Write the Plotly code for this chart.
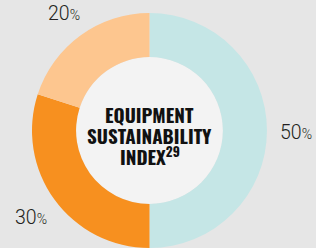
import math
import plotly.graph_objects as go

categories = ["Segment A", "Segment B", "Segment C"]
values = [50, 30, 20]
colors = ["#c5e6e6", "#f7901f", "#fdc68f"]
center_lines = ["EQUIPMENT", "SUSTAINABILITY", "INDEX<sup>29</sup>"]

W, H = 316, 248
cx, cy, R = 149.5, 130.5, 117.5
hole = 0.625

fig = go.Figure(go.Pie(
    labels=categories, values=values, sort=False, direction="clockwise", rotation=0,
    marker=dict(colors=colors, line=dict(width=0)),
    hole=hole, textinfo="none", hoverinfo="label+percent", showlegend=False,
    domain=dict(x=[(cx - R) / W, (cx + R) / W], y=[1 - (cy + R) / H, 1 - (cy - R) / H]),
))

# inner disc
ri = R * hole
fig.add_shape(type="circle", xref="paper", yref="paper", layer="below",
              x0=(cx - ri) / W, x1=(cx + ri) / W, y0=1 - (cy + ri) / H, y1=1 - (cy - ri) / H,
              fillcolor="#f3f3f3", line=dict(width=0))

# percentage labels at each slice's mid-angle
total = sum(values)
acc = 0
for v in values:
    mid = (acc + v / 2) / total * 2 * math.pi
    acc += v
    rl = R * 1.245
    x = cx + rl * math.sin(mid)
    y = cy - rl * math.cos(mid) + 1.5
    fig.add_annotation(x=x / W, y=1 - y / H, xref="paper", yref="paper",
                       text=f"{v}<span style='font-size:14px'>%</span>", showarrow=False,
                       xanchor="center", yanchor="middle",
                       font=dict(family="Roboto, Liberation Sans, Arial", size=19.5, weight=300, color="#231f20"))

# centre title, one annotation per line
line_gap = 20.8
for i, t in enumerate(center_lines):
    y = cy + 4.5 + (i - 1) * line_gap
    fig.add_annotation(x=cx / W, y=1 - y / H, xref="paper", yref="paper",
                       text=t, showarrow=False, xanchor="center", yanchor="middle", align="center",
                       font=dict(family="Oswald, Roboto Condensed, Archivo Narrow, Asap Condensed", size=19,
                                 weight=700, color="#111111"))

fig.update_layout(width=W, height=H, margin=dict(l=0, r=0, t=0, b=0),
                  paper_bgcolor="#e6e6e6", plot_bgcolor="#e6e6e6")

fig.write_html("out.html", config={"displayModeBar": False},
               post_script="document.body.style.margin='0';")
